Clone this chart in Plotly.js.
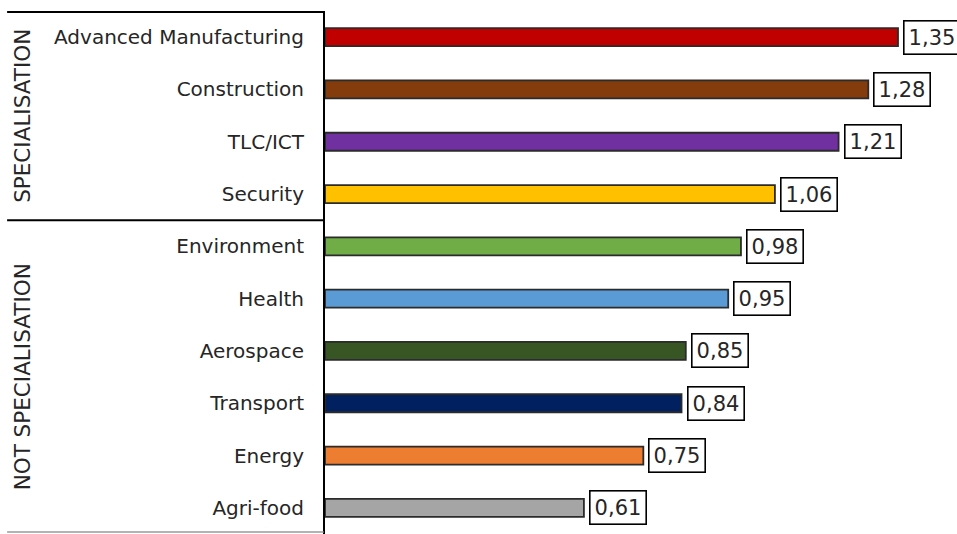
<!DOCTYPE html>
<html>
<head>
<meta charset="utf-8">
<script src="https://cdn.plot.ly/plotly-3.0.1.min.js"></script>
<style>
  html, body { margin: 0; padding: 0; background: #fff; }
  #chart { width: 957px; height: 534px; }
</style>
</head>
<body>
<div id="chart"></div>
<script>
// Sector specialisation index, sorted from highest to lowest
const sectors = ["Advanced Manufacturing", "Construction", "TLC/ICT", "Security",
                 "Environment", "Health", "Aerospace", "Transport", "Energy", "Agri-food"];
const indexValues = [1.35, 1.28, 1.21, 1.06, 0.98, 0.95, 0.85, 0.84, 0.75, 0.61];
const barColors = ["#C00000", "#843C0C", "#7030A0", "#FFC000", "#70AD47",
                   "#5B9BD5", "#375623", "#002060", "#ED7D31", "#A5A5A5"];
const valueLabels = indexValues.map(v => v.toFixed(2).replace(".", ","));

// Group headings and the number of sectors in the first group
const groupNames = ["SPECIALISATION", "NOT SPECIALISATION"];
const firstGroupSize = 4;

const font = "DejaVu Sans, Verdana, sans-serif";
const textColor = "#262626";
const n = sectors.length;

const trace = {
  type: "bar",
  orientation: "h",
  x: indexValues,
  y: sectors,
  marker: { color: barColors, line: { color: "#2b2b2b", width: 1.8 } },
  hoverinfo: "skip"
};

// boxed value labels at the end of each bar
const annotations = sectors.map((s, i) => ({
  x: indexValues[i], y: s, xref: "x", yref: "y",
  text: valueLabels[i], showarrow: false,
  xanchor: "left", yanchor: "middle", xshift: 5,
  font: { family: font, size: 21, color: textColor },
  bgcolor: "#ffffff", bordercolor: "#000000", borderwidth: 1.6, borderpad: 4
}));

// rotated group headings, centred on their category span
const groupMid = [(firstGroupSize - 1) / 2, (firstGroupSize + n - 1) / 2];
groupNames.forEach((name, k) => {
  annotations.push({
    x: -0.479, xref: "paper", xanchor: "center",
    y: groupMid[k], yref: "y", yanchor: "middle",
    text: name, showarrow: false, textangle: -90,
    font: { family: font, size: 21.5, color: textColor }
  });
});

const layout = {
  width: 957, height: 534,
  margin: { l: 325, r: 0, t: 11, b: 0 },
  paper_bgcolor: "#ffffff", plot_bgcolor: "#ffffff",
  showlegend: false,
  bargap: 0.656,
  font: { family: font, color: textColor },
  xaxis: { range: [0, 1.489], visible: false, fixedrange: true },
  yaxis: {
    type: "category", autorange: "reversed",
    showline: true, linecolor: "#000000", linewidth: 2,
    showgrid: false, zeroline: false,
    ticks: "outside", ticklen: 15, tickcolor: "rgba(0,0,0,0)",
    tickfont: { family: font, size: 20, color: textColor },
    fixedrange: true
  },
  annotations: annotations,
  shapes: [
    // top border of the label column
    { type: "line", xref: "paper", yref: "paper", x0: -0.503, x1: -0.002, y0: 0.998, y1: 0.998,
      line: { color: "#000000", width: 2 } },
    // separator between the two groups
    { type: "line", xref: "paper", yref: "y", x0: -0.503, x1: -0.002,
      y0: firstGroupSize - 0.5, y1: firstGroupSize - 0.5, line: { color: "#000000", width: 2 } },
    // bottom border
    { type: "line", xref: "paper", yref: "paper", x0: -0.503, x1: -0.002, y0: 0.004, y1: 0.004,
      line: { color: "#9a9a9a", width: 1.5 } }
  ]
};

Plotly.newPlot("chart", [trace], layout, { displayModeBar: false, staticPlot: true });
</script>
</body>
</html>
